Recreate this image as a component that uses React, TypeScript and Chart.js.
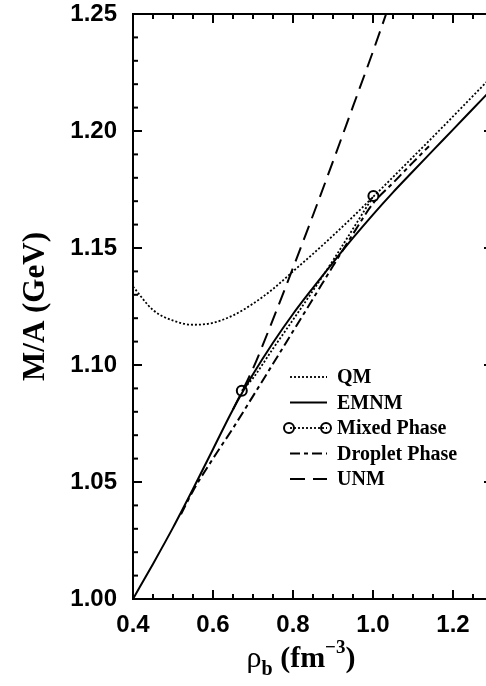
import React, { useEffect, useRef } from 'react';
import { Chart, registerables } from 'chart.js';

Chart.register(...registerables);

// Baryon density grid (fm^-3) and energy per baryon M/A (GeV) for each phase
const QM_RHO = [0.40, 0.45, 0.50, 0.55, 0.60, 0.65, 0.70, 0.75, 0.80, 0.85, 0.90, 0.95, 1.00, 1.05, 1.10, 1.15, 1.20, 1.25, 1.30];
const QM_MA = [1.1335, 1.1235, 1.1190, 1.1172, 1.1180, 1.1212, 1.1262, 1.1325, 1.1400, 1.1475, 1.1553, 1.1634, 1.1718, 1.1803, 1.1889, 1.1975, 1.2062, 1.2150, 1.2238];

const EMNM_RHO = [0.40, 0.45, 0.50, 0.55, 0.60, 0.65, 0.70, 0.75, 0.80, 0.85, 0.90, 0.95, 1.00, 1.05, 1.10, 1.15, 1.20, 1.25, 1.30];
const EMNM_MA = [1.0000, 1.0150, 1.0305, 1.0470, 1.0640, 1.0810, 1.0960, 1.1095, 1.1218, 1.1330, 1.1438, 1.1543, 1.1643, 1.1738, 1.1828, 1.1917, 1.2006, 1.2095, 1.2184];

const MIXED_RHO = [0.672, 0.70, 0.75, 0.80, 0.85, 0.90, 0.95, 1.001];
const MIXED_MA = [1.0890, 1.0944, 1.1070, 1.1193, 1.1318, 1.1447, 1.1582, 1.1722];

const DROPLET_RHO = [0.52, 0.55, 0.60, 0.65, 0.70, 0.75, 0.80, 0.85, 0.90, 0.95, 1.00, 1.05, 1.10, 1.14];
const DROPLET_MA = [1.0362, 1.0462, 1.0600, 1.0730, 1.0867, 1.1005, 1.1144, 1.1283, 1.1423, 1.1560, 1.1690, 1.1778, 1.1866, 1.1935];

const UNM_RHO = [0.65, 0.70, 0.75, 0.80, 0.85, 0.90, 0.95, 1.00, 1.05];
const UNM_MA = [1.0810, 1.0985, 1.1195, 1.1415, 1.1640, 1.1870, 1.2105, 1.2340, 1.2585];

// Axis ticks
const X_TICKS = [0.4, 0.6, 0.8, 1.0, 1.2];
const Y_TICKS = [1.0, 1.05, 1.1, 1.15, 1.2, 1.25];
const X_RANGE = [0.4, 1.3];
const Y_RANGE = [1.0, 1.25];
const X_MINOR_STEP = 0.05;
const Y_MINOR_STEP = 0.01;

const SANS = "'Liberation Sans', Arial, Helvetica, sans-serif";
const SERIF = "'Liberation Serif', 'Times New Roman', Times, serif";

const pts = (xs: number[], ys: number[]) => xs.map((x, i) => ({ x, y: ys[i] }));

// Box frame with inward ticks on all four sides
const framePlugin = {
  id: 'frame',
  afterDatasetsDraw(chart: any) {
    const { ctx, chartArea: a, scales } = chart;
    const xs = scales.x;
    const ys = scales.y;
    ctx.save();
    ctx.strokeStyle = '#000';
    ctx.lineWidth = 2;
    ctx.setLineDash([]);
    ctx.strokeRect(a.left, a.top, a.right - a.left, a.bottom - a.top);
    const seg = (x1: number, y1: number, x2: number, y2: number) => {
      ctx.beginPath();
      ctx.moveTo(x1, y1);
      ctx.lineTo(x2, y2);
      ctx.stroke();
    };
    const nx = Math.round((X_RANGE[1] - X_RANGE[0]) / X_MINOR_STEP);
    for (let i = 0; i <= nx; i++) {
      const v = X_RANGE[0] + i * X_MINOR_STEP;
      const major = X_TICKS.some((t) => Math.abs(t - v) < 1e-6);
      const len = major ? 9 : 5;
      const px = xs.getPixelForValue(v);
      seg(px, a.bottom, px, a.bottom - len);
      seg(px, a.top, px, a.top + len);
    }
    const ny = Math.round((Y_RANGE[1] - Y_RANGE[0]) / Y_MINOR_STEP);
    for (let i = 0; i <= ny; i++) {
      const v = Y_RANGE[0] + i * Y_MINOR_STEP;
      const major = Y_TICKS.some((t) => Math.abs(t - v) < 1e-6);
      const len = major ? 9 : 5;
      const py = ys.getPixelForValue(v);
      seg(a.left, py, a.left + len, py);
      seg(a.right, py, a.right - len, py);
    }
    ctx.restore();
  },
};

// Axis titles, with sub/superscripts on the density label
const titlePlugin = {
  id: 'titles',
  afterDraw(chart: any) {
    const { ctx, chartArea: a } = chart;
    ctx.save();
    ctx.fillStyle = '#000';
    // y title
    ctx.translate(36, (a.top + a.bottom) / 2);
    ctx.rotate(-Math.PI / 2);
    ctx.font = `bold 31px ${SERIF}`;
    ctx.textAlign = 'center';
    ctx.textBaseline = 'middle';
    ctx.fillText('M/A (GeV)', 0, 0);
    ctx.restore();

    // x title: ρ_b (fm^-3)
    ctx.save();
    ctx.fillStyle = '#000';
    ctx.textAlign = 'left';
    ctx.textBaseline = 'alphabetic';
    const parts = [
      { t: 'ρ', font: `30px ${SERIF}`, dy: 0 },
      { t: 'b', font: `bold 20px ${SERIF}`, dy: 8 },
      { t: ' (fm', font: `bold 30px ${SERIF}`, dy: 0 },
      { t: '−3', font: `bold 19px ${SERIF}`, dy: -14 },
      { t: ')', font: `bold 30px ${SERIF}`, dy: 0 },
    ];
    let total = 0;
    const widths = parts.map((p) => {
      ctx.font = p.font;
      const w = ctx.measureText(p.t).width;
      total += w;
      return w;
    });
    let x = (a.left + a.right) / 2 - 12 - total / 2;
    const base = a.bottom + 68;
    parts.forEach((p, i) => {
      ctx.font = p.font;
      ctx.fillText(p.t, x, base + p.dy);
      x += widths[i];
    });
    ctx.restore();
  },
};

// Legend drawn inside the plot area
const legendPlugin = {
  id: 'insideLegend',
  afterDraw(chart: any) {
    const { ctx, chartArea: a } = chart;
    const x1 = a.left + 157;
    const x2 = a.left + 194;
    const tx = a.left + 204;
    const y0 = a.top + 363;
    const step = 25.5;
    ctx.save();
    chart.data.datasets.forEach((ds: any, i: number) => {
      const y = y0 + i * step;
      ctx.strokeStyle = '#000';
      ctx.lineWidth = ds.borderWidth;
      ctx.setLineDash(ds.borderDash || []);
      ctx.beginPath();
      ctx.moveTo(x1, y);
      ctx.lineTo(x2, y);
      ctx.stroke();
      if (ds.endMarkers) {
        ctx.setLineDash([]);
        ctx.lineWidth = 2;
        [x1 - 1, x2 - 1].forEach((cx) => {
          ctx.beginPath();
          ctx.arc(cx, y, 5, 0, Math.PI * 2);
          ctx.stroke();
        });
      }
      ctx.setLineDash([]);
      ctx.fillStyle = '#000';
      ctx.font = `bold 20px ${SERIF}`;
      ctx.textAlign = 'left';
      ctx.textBaseline = 'middle';
      ctx.fillText(ds.label, tx, y + 1);
    });
    ctx.restore();
  },
};

export default function App() {
  const ref = useRef<HTMLCanvasElement>(null);

  useEffect(() => {
    const canvas = ref.current;
    if (!canvas) return;
    const lastMixed = MIXED_RHO.length - 1;
    const chart = new Chart(canvas, {
      type: 'line',
      data: {
        datasets: [
          {
            label: 'QM',
            data: pts(QM_RHO, QM_MA),
            borderColor: '#000',
            borderWidth: 1.8,
            borderDash: [2, 2],
            cubicInterpolationMode: 'monotone',
            pointRadius: 0,
          },
          {
            label: 'EMNM',
            data: pts(EMNM_RHO, EMNM_MA),
            borderColor: '#000',
            borderWidth: 2,
            cubicInterpolationMode: 'monotone',
            pointRadius: 0,
          },
          {
            label: 'Mixed Phase',
            data: pts(MIXED_RHO, MIXED_MA),
            borderColor: '#000',
            borderWidth: 1.8,
            borderDash: [2, 2],
            cubicInterpolationMode: 'monotone',
            pointRadius: (c: any) => (c.dataIndex === 0 || c.dataIndex === lastMixed ? 5 : 0),
            pointBorderWidth: 2,
            pointBorderColor: '#000',
            pointBackgroundColor: 'rgba(0,0,0,0)',
            endMarkers: true,
          } as any,
          {
            label: 'Droplet Phase',
            data: pts(DROPLET_RHO, DROPLET_MA),
            borderColor: '#000',
            borderWidth: 2,
            borderDash: [10, 4, 4, 4],
            cubicInterpolationMode: 'monotone',
            pointRadius: 0,
          },
          {
            label: 'UNM',
            data: pts(UNM_RHO, UNM_MA),
            borderColor: '#000',
            borderWidth: 2,
            borderDash: [15, 8],
            cubicInterpolationMode: 'monotone',
            pointRadius: 0,
          },
        ],
      },
      options: {
        responsive: false,
        animation: false,
        devicePixelRatio: 1,
        layout: { padding: { top: 14, right: 7, left: 0, bottom: 0 } },
        plugins: {
          legend: { display: false },
          tooltip: { enabled: false },
        },
        scales: {
          x: {
            type: 'linear',
            min: X_RANGE[0],
            max: X_RANGE[1],
            grid: { display: false, drawTicks: false },
            border: { display: false },
            ticks: {
              includeBounds: false,
              padding: 12,
              color: '#000',
              maxRotation: 0,
              font: { family: SANS, size: 24, weight: 'bold' },
              callback: (v: any) => Number(v).toFixed(1),
            },
            afterBuildTicks: (s: any) => {
              s.ticks = X_TICKS.map((value) => ({ value }));
            },
            afterFit: (s: any) => {
              s.height = 87;
              s.paddingLeft = 0;
              s.paddingRight = 0;
            },
          },
          y: {
            type: 'linear',
            min: Y_RANGE[0],
            max: Y_RANGE[1],
            grid: { display: false, drawTicks: false },
            border: { display: false },
            ticks: {
              includeBounds: false,
              padding: 16,
              color: '#000',
              font: { family: SANS, size: 24, weight: 'bold' },
              callback: (v: any) => Number(v).toFixed(2),
            },
            afterBuildTicks: (s: any) => {
              s.ticks = Y_TICKS.map((value) => ({ value }));
            },
            afterFit: (s: any) => {
              s.width = 133;
              s.paddingTop = 0;
              s.paddingBottom = 0;
            },
          },
        },
      } as any,
      plugins: [framePlugin, titlePlugin, legendPlugin],
    });
    return () => chart.destroy();
  }, []);

  return (
    <div
      style={{
        position: 'fixed',
        left: 0,
        top: 0,
        width: 486,
        height: 686,
        overflow: 'hidden',
        background: '#fff',
      }}
    >
      <canvas ref={ref} width={500} height={686} style={{ display: 'block', width: 500, height: 686 }} />
    </div>
  );
}
